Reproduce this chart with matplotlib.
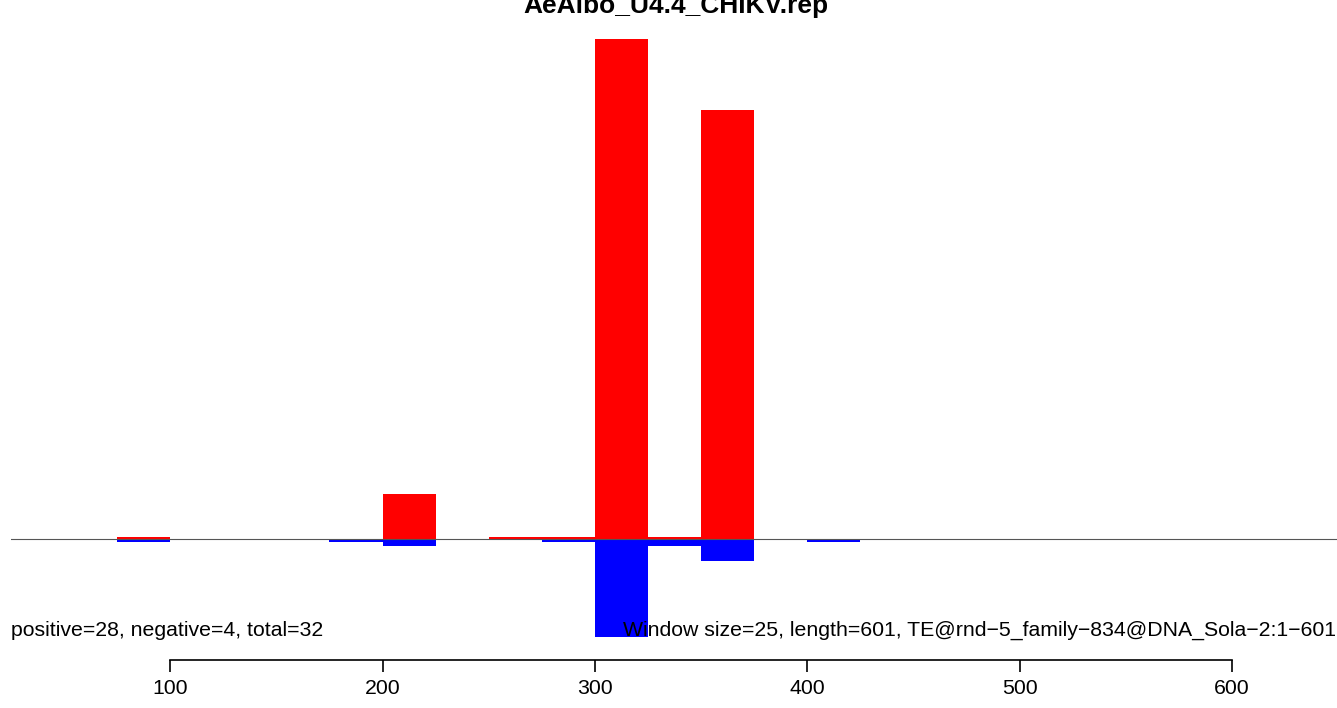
import matplotlib
matplotlib.use("Agg")
import matplotlib.pyplot as plt
import numpy as np

plt.rcParams['font.family'] = ['Liberation Sans', 'DejaVu Sans']

title = "AeAlbo_U4.4_CHIKV.rep"
window = 25
# window start positions
starts = [75, 175, 200, 250, 275, 300, 325, 350, 400]
pos_vals = [0.4, 0.0, 9.0, 0.4, 0.4, 100.0, 0.4, 85.8, 0.0]
neg_vals = [0.6, 0.6, 1.4, 0.0, 0.6, 19.6, 1.4, 4.4, 0.6]
xticks = [100, 200, 300, 400, 500, 600]
left_text = "positive=28, negative=4, total=32"
right_text = "Window size=25, length=601, TE@rnd\u22125_family\u2212834@DNA_Sola\u22122:1\u2212601"

W, H = 1337, 708
fig = plt.figure(figsize=(W / 100, H / 100), dpi=100)
ax = fig.add_axes([11 / W, 1 - 637 / H, (1338 - 11) / W, (637 - 39) / H])

ax.bar(starts, pos_vals, width=window, align='edge', color='#ff0000', linewidth=0)
ax.bar(starts, [-v for v in neg_vals], width=window, align='edge', color='#0000ff', linewidth=0)
ax.axhline(0, color='#555555', linewidth=0.8, zorder=3)

ax.set_xlim(25, 650)
ax.set_ylim(-19.6, 100)

for s in ['top', 'right', 'left']:
    ax.spines[s].set_visible(False)
ax.spines['bottom'].set_position(('outward', 16.6))
ax.spines['bottom'].set_bounds(100, 600)
ax.spines['bottom'].set_linewidth(1.2)
ax.set_yticks([])
ax.set_xticks(xticks)
ax.set_xticklabels([str(t) for t in xticks])
ax.tick_params(axis='x', direction='out', length=8.6, width=1.2, labelsize=15.3, pad=5)

fig.text(11 / W, 1 - 630 / H, left_text, ha='left', va='center', fontsize=15.3)
fig.text(1336 / W, 1 - 630 / H, right_text, ha='right', va='center', fontsize=15.3)
fig.text(676 / W, 1 - 13 / H, title, ha='center', va='baseline', fontsize=19, fontweight='bold')

fig.savefig("out.png", dpi=100)
